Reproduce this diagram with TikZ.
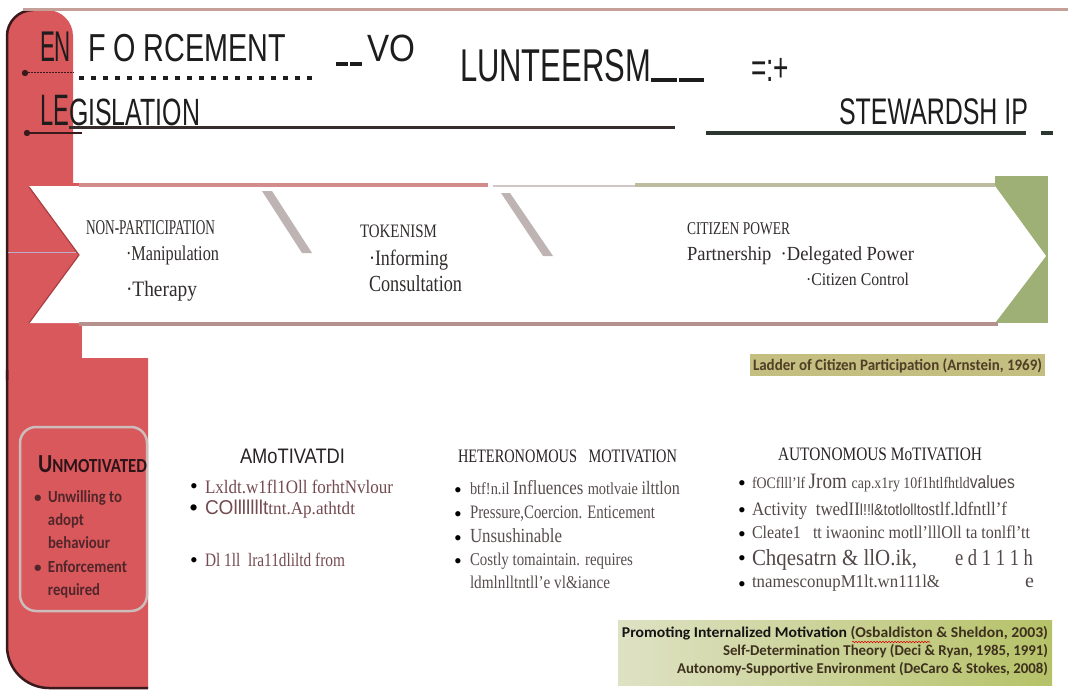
\documentclass[tikz,border=0pt]{standalone}
\usepackage{fontspec}
\usepackage{graphicx}
\setmainfont{Liberation Serif}
\newfontfamily\sansf{Liberation Sans}
\newfontfamily\carl{Carlito}
\usetikzlibrary{decorations.pathmorphing}
\newcommand\fs[1]{\fontsize{#1}{#1}\selectfont}
\newcommand\fw[2]{\resizebox{#1}{\height}{#2}}
\definecolor{redfill}{RGB}{217,88,92}
\definecolor{bordc}{RGB}{58,25,28}
\definecolor{topline}{RGB}{196,160,152}
\definecolor{hdrtext}{RGB}{30,28,28}
\definecolor{uline1}{RGB}{55,45,45}
\definecolor{uline2}{RGB}{45,55,50}
\definecolor{greenblk}{RGB}{158,176,118}
\definecolor{bandred}{RGB}{210,140,140}
\definecolor{bandgrey}{RGB}{208,198,198}
\definecolor{bandolive}{RGB}{190,188,158}
\definecolor{bandbot}{RGB}{180,145,140}
\definecolor{slashc}{RGB}{190,180,180}
\definecolor{bandtext}{RGB}{50,45,45}
\definecolor{ladderfill}{RGB}{196,190,128}
\definecolor{laddertext}{RGB}{80,62,38}
\definecolor{unmbox}{RGB}{205,188,188}
\definecolor{unmhead}{RGB}{45,20,25}
\definecolor{unmtext}{RGB}{80,38,42}
\definecolor{coltitle}{RGB}{40,35,38}
\definecolor{colone}{RGB}{115,75,80}
\definecolor{coltwo}{RGB}{88,78,78}
\definecolor{colthree}{RGB}{82,72,72}
\definecolor{citeL}{RGB}{222,226,196}
\definecolor{citeM}{RGB}{222,224,150}
\definecolor{citeR}{RGB}{182,194,104}
\definecolor{citeK}{RGB}{20,20,20}
\definecolor{citeB}{RGB}{62,48,30}
\definecolor{faintline}{RGB}{190,172,205}
\definecolor{notchsh}{RGB}{170,62,66}
\begin{document}
\begin{tikzpicture}[x=1pt,y=-1pt,
  txt/.style={anchor=base west, inner sep=0pt, outer sep=0pt},
  hdr/.style={txt, text=hdrtext},
  bandtxt/.style={txt, text=bandtext},
  bul/.style={txt, text=black, font=\fs{22}},
  citetxt/.style={anchor=base east, inner sep=0pt, outer sep=0pt, font=\carl\bfseries\fs{15}, text=citeB}]
\useasboundingbox (0,0) rectangle (1068,690);
\fill[white] (0,0) rectangle (1068,690);
% red side bar
\fill[redfill, rounded corners=26pt] (7,10) rectangle (73,420);
\fill[redfill] (30,183) rectangle (82,420);
\begin{scope}
\clip (0,300) rectangle (148,690);
\fill[redfill, rounded corners=42pt] (7,300) rectangle (230,688);
\end{scope}
\fill[white] (82,290) rectangle (150,358);
\draw[bordc, line width=2.5pt, rounded corners=26pt] (34,10) -- (7,10) -- (7,380);
\draw[bordc, line width=2.5pt, rounded corners=42pt] (7,370) -- (7,688) -- (148,688);
\draw[topline, line width=3pt] (23,9.5) -- (1068,9.5);
\draw[faintline, line width=0.8pt] (8,252) -- (76,252);
% header
\node[hdr, font=\sansf\fs{43}] (en) at (40,62) {\fw{31pt}{EN}};
\node[hdr, font=\sansf\fs{39}] (forc) at (88,62) {\fw{198pt}{F O RCEMENT}};
\draw[hdrtext, line width=3.5pt] (336,64) -- (348,64);
\draw[hdrtext, line width=3.5pt] (350,64) -- (362,64);
\node[hdr, font=\sansf\fs{38}] (vo) at (367,62) {\fw{48pt}{VO}};
\node[hdr, font=\sansf\fs{46}] (lun) at (460,82) {\fw{191pt}{LUNTEERSM}};
\draw[hdrtext, line width=4pt] (651,80) -- (677,80);
\draw[hdrtext, line width=4pt] (679,80) -- (704,80);
\node[hdr, font=\sansf\fs{40}] (eqp) at (751,82) {\fw{38pt}{=:+}};
\node[hdr, font=\sansf\fs{44}] (le) at (40,126) {\fw{29pt}{LE}};
\node[hdr, font=\sansf\fs{38}] (gis) at (69,126) {\fw{131pt}{GISLATION}};
\node[hdr, font=\sansf\fs{37}] (stew) at (839,125) {\fw{189pt}{STEWARDSH IP}};
\draw[uline1, line width=3pt] (69,127.5) -- (675,127.5);
\draw[uline2, line width=4.5pt] (706,133) -- (1026,133);
\draw[uline2, line width=4.5pt] (1041,133) -- (1053,133);
% dotted rows
\coordinate (d1) at (25,73);
\coordinate (d1e) at (74,73);
\coordinate (d1s) at (79,78);
\coordinate (d1f) at (318,78);
\fill[bordc] (d1) circle (3.2pt);
\draw[bordc, line width=1pt, dash pattern=on 1.5pt off 1.5pt] (d1) -- (d1e);
\draw[hdrtext, line width=3.5pt, dash pattern=on 5pt off 7pt] (d1s) -- (d1f);
\coordinate (d2) at (27,133);
\coordinate (d2e) at (82,133);
\fill[bordc] (d2) circle (3.2pt);
\draw[bordc, line width=2.5pt] (d2) -- (d2e);
% chevron band
\fill[greenblk] (995,176) rectangle (1048,323);
\fill[white] (29,186) -- (995,186) -- (1046,256) -- (995,323) -- (29,323) -- (79,255) -- cycle;
\draw[notchsh, line width=1.2pt] (29,187) -- (79,255) -- (29,323);
\draw[bandred, line width=4pt] (79,184.5) -- (488,184.5);
\draw[bandgrey, line width=2pt] (493,186) -- (635,186);
\draw[bandolive, line width=4pt] (635,184.5) -- (995,184.5);
\draw[bandbot, line width=4pt] (79,324) -- (998,324);
\fill[slashc] (262,191) -- (272,191) -- (312,253) -- (302,253) -- cycle;
\fill[slashc] (501,193) -- (510,193) -- (553,256) -- (543,256) -- cycle;
\node[bandtxt, font=\fs{21}] (nonp) at (86,234) {\fw{129pt}{NON-PARTICIPATION}};
\node[bandtxt, font=\fs{21}] (manip) at (126,260) {\fw{93pt}{·Manipulation}};
\node[bandtxt, font=\fs{22}] (ther) at (126,296) {\fw{71pt}{·Therapy}};
\node[bandtxt, font=\fs{19}] (tok) at (360,237) {\fw{77pt}{TOKENISM}};
\node[bandtxt, font=\fs{22}] (inf) at (369,265) {\fw{79pt}{·Informing}};
\node[bandtxt, font=\fs{23}] (cons) at (369,291) {\fw{93pt}{Consultation}};
\node[bandtxt, font=\fs{18}] (citp) at (687,234) {\fw{103pt}{CITIZEN POWER}};
\node[bandtxt, font=\fs{20}] (part) at (687,260) {\fw{227pt}{Partnership \ ·Delegated Power}};
\node[bandtxt, font=\fs{18}] (cctl) at (806,285) {\fw{103pt}{·Citizen Control}};
% ladder caption
\fill[ladderfill] (750,354) rectangle (1045,376);
\node[txt, font=\carl\bfseries\fs{16}, text=laddertext] (ladder) at (753,370) {\fw{289pt}{Ladder of Citizen Participation (Arnstein, 1969)}};
% unmotivated box
\draw[unmbox, line width=2.5pt, rounded corners=16pt] (20,427) rectangle (147,611);
\node[txt, font=\carl\bfseries, text=unmhead] (unm) at (38,472) {\fw{109pt}{{\fs{26}U}{\fs{20}NMOTIVATED}}};
\node[txt, font=\carl\bfseries\fs{15}, text=unmtext] (ub1) at (34,502) {•};
\node[txt, font=\carl\bfseries\fs{17}, text=unmtext] (u1) at (48,502) {\fw{74pt}{Unwilling to}};
\node[txt, font=\carl\bfseries\fs{17}, text=unmtext] (u2) at (48,525) {\fw{36pt}{adopt}};
\node[txt, font=\carl\bfseries\fs{17}, text=unmtext] (u3) at (48,548) {\fw{62pt}{behaviour}};
\node[txt, font=\carl\bfseries\fs{15}, text=unmtext] (ub2) at (34,572) {•};
\node[txt, font=\carl\bfseries\fs{17}, text=unmtext] (u4) at (48,572) {\fw{79pt}{Enforcement}};
\node[txt, font=\carl\bfseries\fs{17}, text=unmtext] (u5) at (48,595) {\fw{52pt}{required}};
% column 1
\node[txt, font=\sansf\fs{21}, text=coltitle] (amot) at (240,463) {\fw{105pt}{AMoTIVATDI}};
\node[bul] (c1b1) at (190,493) {•};
\node[txt, font=\fs{19}, text=colone] (c1t1) at (205,493) {\fw{188pt}{Lxldt.w1fl1Oll forhtNvlour}};
\node[bul, font=\fs{26}] (c1b2) at (189,516) {•};
\node[txt, text=colone] (c1t2) at (205,514) {\fw{150pt}{{\sansf\fs{20}COlllllllt}{\fs{18}tnt.Ap.athtdt}}};
\node[bul] (c1b3) at (190,567) {•};
\node[txt, font=\fs{19}, text=colone] (c1t3) at (205,566) {\fw{140pt}{Dl 1ll \ lra11dliltd from}};
% column 2
\node[txt, font=\fs{19}, text=coltitle] (het) at (458,462) {\fw{219pt}{HETERONOMOUS\hspace{0.8em}MOTIVATION}};
\node[bul] (c2b1) at (454,497) {•};
\node[txt, text=coltwo] (c2t1) at (470,494) {\fw{210pt}{{\fs{17}btf!n.il }{\fs{20}Influences }{\fs{17}motlvaie }{\fs{19}ilttlon}}};
\node[bul] (c2b2) at (454,521) {•};
\node[txt, font=\fs{19}, text=coltwo] (c2t2) at (470,518) {\fw{185pt}{Pressure,Coercion. Enticement}};
\node[bul] (c2b3) at (454,545) {•};
\node[txt, font=\fs{20}, text=coltwo] (c2t3) at (470,542) {\fw{92pt}{Unsushinable}};
\node[bul] (c2b4) at (454,568) {•};
\node[txt, font=\fs{18}, text=coltwo] (c2t4) at (470,565) {\fw{163pt}{Costly tomaintain. requires}};
\node[txt, font=\fs{18}, text=coltwo] (c2t5) at (470,588) {\fw{140pt}{ldmlnlltntll'e vl\&iance}};
% column 3
\node[txt, font=\fs{19}, text=coltitle] (aut) at (778,460) {\fw{204pt}{AUTONOMOUS MoTIVATIOH}};
\node[bul] (c3b1) at (738,490) {•};
\node[txt, text=colthree] (c3t1) at (752,488) {\fw{263pt}{{\fs{16}fOCflll'lf }{\fs{22}Jrom }{\fs{16}cap.x1ry 10f1htlfhtld}{\sansf\fs{18}values}}};
\node[bul] (c3b2) at (738,517) {•};
\node[txt, text=colthree] (c3t2) at (752,515) {\fw{255pt}{{\fs{19}Activity \ twedII}{\sansf\fs{16}l!!l\&totlollto}{\fs{19}stlf.ldfntll'f}}};
\node[bul] (c3b3) at (738,541) {•};
\node[txt, font=\fs{18}, text=colthree] (c3t3) at (752,538) {\fw{278pt}{Cleate1 \ \ tt iwaoninc motll'lllOll ta tonlfl'tt}};
\node[bul] (c3b4) at (738,565) {•};
\node[txt, font=\fs{23}, text=colthree] (c3t4) at (752,565) {\fw{165pt}{Chqesatrn \& llO.ik,}};
\node[txt, font=\fs{23}, text=colthree] (c3t4b) at (955,565) {\fw{78pt}{e d 1 1 1 h}};
\node[bul] (c3b5) at (738,591) {•};
\node[txt, font=\fs{18}, text=colthree] (c3t5) at (752,587) {\fw{188pt}{tnamesconupM1lt.wn111l\&}};
\node[txt, font=\fs{20}, text=colthree] (c3t5b) at (1025,587) {e};
% citation box
\shade[left color=citeL, middle color=citeM, right color=citeR] (618,620) rectangle (1052,685);
\node[citetxt] (cite1) at (1048,637) {\fw{426pt}{{\color{citeK}Promoting Internalized Motivation} (Osbaldiston \& Sheldon, 2003)}};
\draw[red!85!black, line width=0.6pt, decorate, decoration={snake, amplitude=0.7pt, segment length=3pt}] (852,642) -- (930,642);
\node[citetxt] (cite2) at (1048,655) {\fw{325pt}{Self-Determination Theory (Deci \& Ryan, 1985, 1991)}};
\node[citetxt] (cite3) at (1048,673) {\fw{371pt}{Autonomy-Supportive Environment (DeCaro \& Stokes, 2008)}};
\end{tikzpicture}
\end{document}
